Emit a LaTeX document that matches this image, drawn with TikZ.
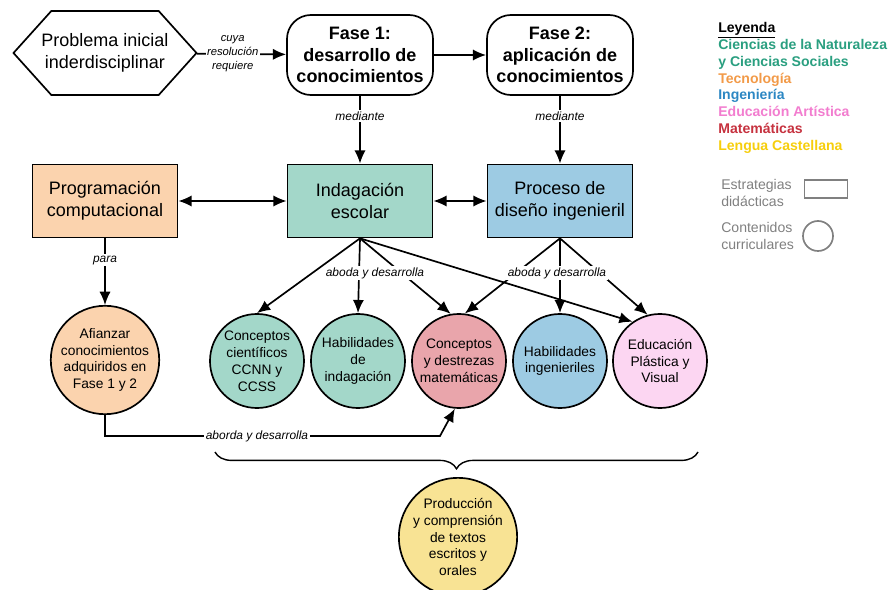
\documentclass[tikz,border=0pt]{standalone}
\usepackage{fontspec}
\setmainfont{Liberation Sans}
\usetikzlibrary{shapes}
\usetikzlibrary{arrows.meta}
\usetikzlibrary{decorations.pathreplacing}

\definecolor{tecfill}{HTML}{FBD3AE}
\definecolor{cnfill}{HTML}{A3D7C9}
\definecolor{ingfill}{HTML}{9DCBE3}
\definecolor{matfill}{HTML}{E9A5AB}
\definecolor{artfill}{HTML}{FCD6F2}
\definecolor{lenfill}{HTML}{F8E394}
\definecolor{cntext}{HTML}{2A9F80}
\definecolor{tectext}{HTML}{F29A48}
\definecolor{ingtext}{HTML}{2C87C3}
\definecolor{arttext}{HTML}{F27DCF}
\definecolor{mattext}{HTML}{C6323F}
\definecolor{lentext}{HTML}{F6CE0C}
\definecolor{leygris}{HTML}{808080}

\begin{document}
\begin{tikzpicture}[x=0.025cm,y=-0.025cm]
\tikzset{fase/.style = {draw,rounded corners=0.6cm,line width=1.2pt,minimum width=3.65cm,minimum height=2cm,align=center,inner sep=1pt,font=\fontsize{12.8}{15.4}\selectfont\bfseries}}
\tikzset{estrategia/.style = {draw,line width=1.2pt,minimum width=3.625cm,minimum height=1.825cm,align=center,font=\fontsize{12.8}{15.4}\selectfont}}
\tikzset{contenido/.style = {shape=circle,draw,line width=1.2pt,minimum size=2.35cm,inner sep=0pt,align=center,font=\fontsize{9.8}{12}\selectfont}}
\tikzset{edge/.style = {->,> = {Latex[length=3.3mm,width=2.8mm]},line width=1.2pt}}
\tikzset{etiqueta/.style = {fill=white,inner sep=1pt,align=center,font=\fontsize{8.5}{10}\selectfont\itshape}}
\useasboundingbox (0,0) rectangle (890,590);

% vertices
\node[signal,signal to=west and east,signal pointer angle=96,draw,line width=1.2pt,inner xsep=-7pt,minimum width=4.5cm,minimum height=2.1cm,align=center,font=\fontsize{12.8}{15.4}\selectfont] (prob) at (105,53) {Problema inicial\\inderdisciplinar};
\node[fase] (fase1) at (360,55) {Fase 1:\\desarrollo de\\conocimientos};
\node[fase] (fase2) at (560,55) {Fase 2:\\aplicación de\\conocimientos};

\node[estrategia,fill=tecfill] (prog) at (105,201) {Programación\\computacional};
\node[estrategia,fill=cnfill] (indag) at (360,201) {Indagación\\escolar};
\node[estrategia,fill=ingfill] (dis) at (560,201) {Proceso de\\diseño ingenieril};

\node[contenido,fill=tecfill,minimum size=2.6cm] (afi) at (105,360) {Afianzar\\conocimientos\\adquiridos en\\Fase 1 y 2};
\node[contenido,fill=cnfill] (ccn) at (257,361) {Conceptos\\científicos\\CCNN y\\CCSS};
\node[contenido,fill=cnfill] (hind) at (358,361) {Habilidades\\de\\indagación};
\node[contenido,fill=matfill] (mat) at (459,361) {Conceptos\\y destrezas\\matemáticas};
\node[contenido,fill=ingfill] (hing) at (560,361) {Habilidades\\ingenieriles};
\node[contenido,fill=artfill] (epv) at (660,361) {Educación\\Plástica y\\Visual};
\node[contenido,fill=lenfill,minimum size=2.75cm] (prod) at (458,537) {Producción\\y comprensión\\de textos\\escritos y\\orales};

% leyenda
\node[anchor=north west,align=left,inner sep=0pt,font=\fontsize{10}{12}\selectfont\bfseries] (ley) at (718,22) {\underline{Leyenda}\\
\textcolor{cntext}{Ciencias de la Naturaleza}\\
\textcolor{cntext}{y Ciencias Sociales}\\
\textcolor{tectext}{Tecnología}\\
\textcolor{ingtext}{Ingeniería}\\
\textcolor{arttext}{Educación Artística}\\
\textcolor{mattext}{Matemáticas}\\
\textcolor{lentext}{Lengua Castellana}};
\node[anchor=west,align=left,inner sep=0pt,text=leygris,font=\fontsize{10}{12}\selectfont] (estr) at (721,193) {Estrategias\\didácticas};
\node[draw=leygris,line width=1.2pt,minimum width=1.075cm,minimum height=0.45cm,inner sep=0pt] (estrcaja) at (826,189) {};
\node[anchor=west,align=left,inner sep=0pt,text=leygris,font=\fontsize{10}{12}\selectfont] (cont) at (721,236) {Contenidos\\curriculares};
\node[shape=circle,draw=leygris,line width=1.2pt,minimum size=0.75cm,inner sep=0pt] (contcirc) at (818,236) {};

%edges
\draw[edge] (prob) -- node[etiqueta,pos=0.4,font=\fontsize{8}{10}\selectfont\itshape]{cuya\\resolución\\requiere} (fase1);
\draw[edge] (fase1) -- (fase2);
\draw[edge] (fase1) -- node[etiqueta,pos=0.3]{mediante} (indag);
\draw[edge] (fase2) -- node[etiqueta,pos=0.3]{mediante} (dis);
\draw[edge,<->] (prog) -- (indag);
\draw[edge,<->] (indag) -- (dis);
\draw[edge] (prog) -- node[etiqueta,pos=0.33]{para} (afi);

\draw[edge] (indag.south) -- (ccn.north);
\draw[edge] (indag.south) -- (hind.north);
\draw[edge] (indag.south) -- (mat.100);
\draw[edge] (indag.south) -- (epv.125);
\node[etiqueta] (abo1) at (375,273) {aboda y desarrolla};

\draw[edge] (dis.south) -- (mat.83);
\draw[edge] (dis.south) -- (hing.north);
\draw[edge] (dis.south) -- (epv.105);
\node[etiqueta] (abo2) at (557,273) {aboda y desarrolla};

\coordinate (esq) at (440,436);
\draw[edge] (afi.south) |- (esq) -- (mat.265);
\node[etiqueta] (abo3) at (257,436) {aborda y desarrolla};

%llave
\coordinate (llI) at (215,452);
\coordinate (llD) at (698,452);
\draw[line width=1pt,decorate,decoration={brace,mirror,amplitude=0.42cm}] (llI) -- (llD);

\end{tikzpicture}
\end{document}
